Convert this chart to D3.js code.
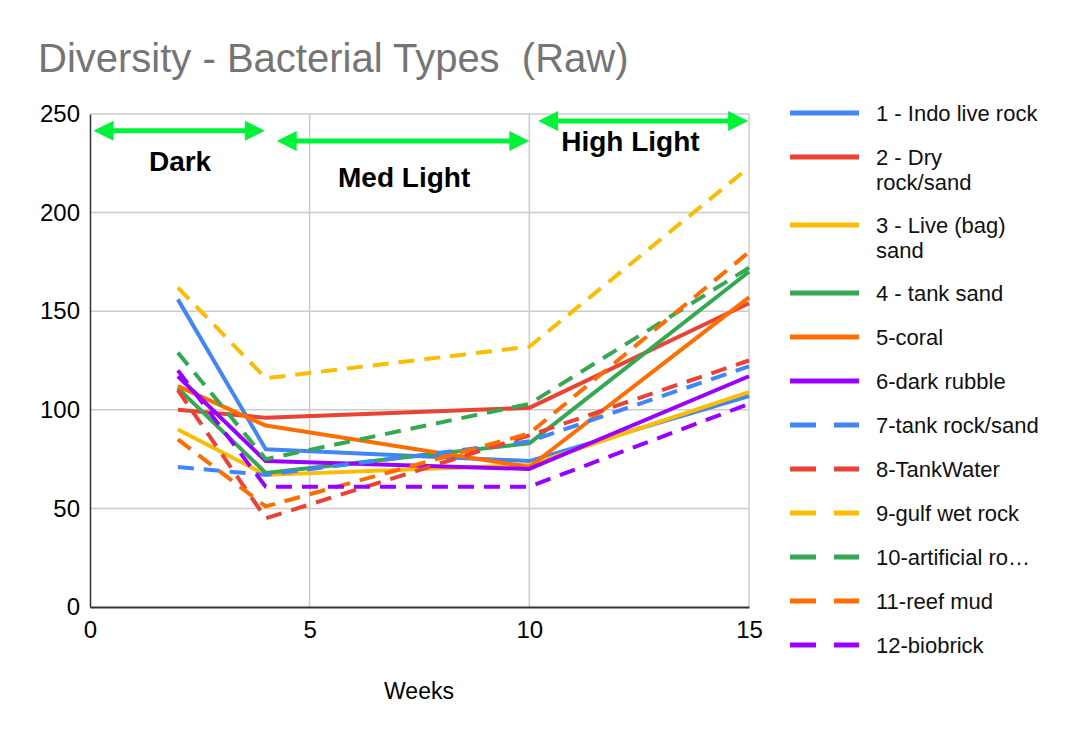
<!DOCTYPE html>
<html><head><meta charset="utf-8">
<script src="https://cdn.jsdelivr.net/npm/d3@7/dist/d3.min.js"></script>
<style>
html,body{margin:0;padding:0;background:#fff;}
svg{display:block;}
text{font-family:"Liberation Sans",Arial,sans-serif;}
</style></head>
<body>
<svg id="chart" width="1092" height="742"></svg>
<script>
// ---- data ----
const weeks = [2, 4, 10, 15];
const seriesNames = ["1 - Indo live rock", "2 - Dry rock/sand", "3 - Live (bag) sand", "4 - tank sand", "5-coral", "6-dark rubble", "7-tank rock/sand", "8-TankWater", "9-gulf wet rock", "10-artificial ro…", "11-reef mud", "12-biobrick"];
const legendLines = [["1 - Indo live rock"], ["2 - Dry", "rock/sand"], ["3 - Live (bag)", "sand"], ["4 - tank sand"], ["5-coral"], ["6-dark rubble"], ["7-tank rock/sand"], ["8-TankWater"], ["9-gulf wet rock"], ["10-artificial ro…"], ["11-reef mud"], ["12-biobrick"]];
const s1 = [156, 80, 74, 107];
const s2 = [100, 96, 101, 154];
const s3 = [90, 67, 72, 109];
const s4 = [111, 68, 83, 170];
const s5 = [112, 92, 71, 157];
const s6 = [117, 74, 70, 117];
const s7 = [71, 67, 84, 122];
const s8 = [110, 45, 87, 125];
const s9 = [162, 116, 132, 223];
const s10 = [129, 75, 103, 172];
const s11 = [85, 51, 88, 180];
const s12 = [120, 61, 61, 103];
const seriesValues = [s1, s2, s3, s4, s5, s6, s7, s8, s9, s10, s11, s12];
const colors = ["#4285F4", "#EA4335", "#FBBC04", "#34A853", "#FF6D01", "#9900FF"];
const dashed = [false, false, false, false, false, false, true, true, true, true, true, true];
const xTicks = [0, 5, 10, 15];
const yTicks = [0, 50, 100, 150, 200, 250];
const periods = [
  {label: "Dark", x0: 0.08, x1: 3.98, yArrow: 241.5, xLabel: 2.05, yLabel: 221},
  {label: "Med Light", x0: 4.25, x1: 10.0, yArrow: 236.3, xLabel: 7.15, yLabel: 213},
  {label: "High Light", x0: 10.2, x1: 14.98, yArrow: 246.5, xLabel: 12.3, yLabel: 231}
];

// ---- layout ----
const svg = d3.select("#chart");
const L = 90, R = 749, T = 114, B = 607;
const x = d3.scaleLinear().domain([0, 15]).range([L, R]);
const y = d3.scaleLinear().domain([0, 250]).range([B, T]);

// title
svg.append("text").attr("x", 38).attr("y", 72)
  .attr("font-size", 40).attr("fill", "#757575").style("white-space", "pre")
  .text("Diversity - Bacterial Types  (Raw)");

// gridlines
svg.append("g").selectAll("line").data(yTicks.filter(d => d > 0)).join("line")
  .attr("x1", L).attr("x2", R).attr("y1", d => y(d)).attr("y2", d => y(d))
  .attr("stroke", "#cccccc").attr("stroke-width", 1.5);
svg.append("g").selectAll("line").data(xTicks.filter(d => d > 0)).join("line")
  .attr("x1", d => x(d)).attr("x2", d => x(d)).attr("y1", T).attr("y2", B)
  .attr("stroke", "#cccccc").attr("stroke-width", 1.5);

// axes
const yAxis = d3.axisLeft(y).tickValues(yTicks).tickSize(0).tickPadding(10);
const gy = svg.append("g").attr("transform", `translate(${L},0)`).call(yAxis);
gy.select(".domain").attr("stroke", "#333").attr("stroke-width", 1.5);
gy.selectAll("text").attr("font-size", 24).attr("fill", "#000").attr("font-family", "Liberation Sans, Arial, sans-serif");

const xAxis = d3.axisBottom(x).tickValues(xTicks).tickSize(0).tickPadding(14);
const gx = svg.append("g").attr("transform", `translate(0,${B})`).call(xAxis);
gx.select(".domain").attr("stroke", "#333").attr("stroke-width", 2);
gx.selectAll("text").attr("font-size", 24).attr("fill", "#000").attr("font-family", "Liberation Sans, Arial, sans-serif");

svg.append("text").attr("x", 419).attr("y", 699).attr("text-anchor", "middle")
  .attr("font-size", 23).attr("fill", "#000").text("Weeks");

// series lines
const line = d3.line().x((d, i) => x(weeks[i])).y(d => y(d));
const gLines = svg.append("g");
seriesValues.forEach((vals, k) => {
  gLines.append("path").datum(vals)
    .attr("d", line).attr("fill", "none")
    .attr("stroke", colors[k % 6]).attr("stroke-width", 4)
    .attr("stroke-linejoin", "round")
    .attr("stroke-dasharray", dashed[k] ? "16,10" : null);
});

// period annotations
const green = "#00F23A";
const gAnn = svg.append("g");
periods.forEach(p => {
  const xa = x(p.x0), xb = x(p.x1), ya = y(p.yArrow);
  const head = 20, hw = 10;
  gAnn.append("line").attr("x1", xa + head - 2).attr("x2", xb - head + 2)
    .attr("y1", ya).attr("y2", ya).attr("stroke", green).attr("stroke-width", 5);
  gAnn.append("path").attr("d", `M${xa},${ya} L${xa + head},${ya - hw} L${xa + head},${ya + hw} Z`).attr("fill", green);
  gAnn.append("path").attr("d", `M${xb},${ya} L${xb - head},${ya - hw} L${xb - head},${ya + hw} Z`).attr("fill", green);
  gAnn.append("text").attr("x", x(p.xLabel)).attr("y", y(p.yLabel)).attr("text-anchor", "middle")
    .attr("font-size", 28).attr("font-weight", "bold").attr("fill", "#000").text(p.label);
});

// legend
const legendY = [113, 157, 225, 293, 337, 381, 425, 469, 513, 557, 601, 645];
const gLeg = svg.append("g");
legendLines.forEach((lines, k) => {
  const ly = legendY[k];
  gLeg.append("line").attr("x1", 790).attr("x2", 859).attr("y1", ly).attr("y2", ly)
    .attr("stroke", colors[k % 6]).attr("stroke-width", 5)
    .attr("stroke-dasharray", dashed[k] ? "26,18" : null);
  const t = gLeg.append("text").attr("x", 876).attr("y", ly + 8)
    .attr("font-size", 22).attr("fill", "#111");
  lines.forEach((s, j) => t.append("tspan").attr("x", 876).attr("dy", j === 0 ? 0 : 25).text(s));
});
</script>
</body></html>
